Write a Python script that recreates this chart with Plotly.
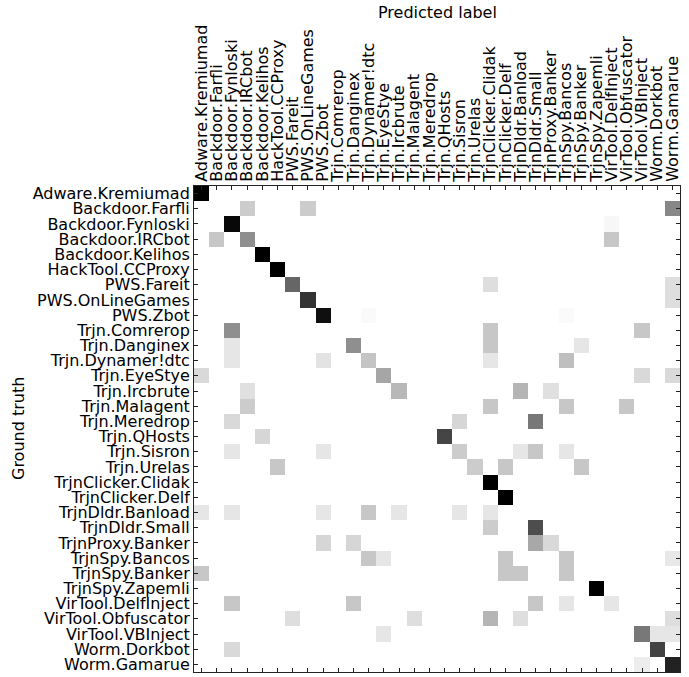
import plotly.graph_objects as go

# Class labels (shared by both axes)
classes = [
    "Adware.Kremiumad", "Backdoor.Farfli", "Backdoor.Fynloski", "Backdoor.IRCbot",
    "Backdoor.Kelihos", "HackTool.CCProxy", "PWS.Fareit", "PWS.OnLineGames",
    "PWS.Zbot", "Trjn.Comrerop", "Trjn.Danginex", "Trjn.Dynamer!dtc",
    "Trjn.EyeStye", "Trjn.Ircbrute", "Trjn.Malagent", "Trjn.Meredrop",
    "Trjn.QHosts", "Trjn.Sisron", "Trjn.Urelas", "TrjnClicker.Clidak",
    "TrjnClicker.Delf", "TrjnDldr.Banload", "TrjnDldr.Small", "TrjnProxy.Banker",
    "TrjnSpy.Bancos", "TrjnSpy.Banker", "TrjnSpy.Zapemli", "VirTool.DelfInject",
    "VirTool.Obfuscator", "VirTool.VBInject", "Worm.Dorkbot", "Worm.Gamarue",
]

# Non-zero cells of the (row-normalised) confusion matrix
truth_idx = [
    0,
    1, 1, 1,
    2, 2,
    3, 3, 3,
    4,
    5,
    6, 6, 6,
    7, 7,
    8, 8, 8,
    9, 9, 9,
    10, 10, 10, 10,
    11, 11, 11, 11, 11,
    12, 12, 12, 12,
    13, 13, 13, 13,
    14, 14, 14, 14,
    15, 15, 15,
    16, 16,
    17, 17, 17, 17, 17, 17,
    18, 18, 18, 18,
    19,
    20,
    21, 21, 21, 21, 21, 21, 21,
    22, 22,
    23, 23, 23, 23,
    24, 24, 24, 24, 24,
    25, 25, 25, 25,
    26,
    27, 27, 27, 27, 27,
    28, 28, 28, 28, 28,
    29, 29, 29, 29,
    30, 30,
    31, 31,
]
pred_idx = [
    0,
    3, 7, 31,
    2, 27,
    1, 3, 27,
    4,
    5,
    6, 19, 31,
    7, 31,
    8, 11, 24,
    2, 19, 29,
    2, 10, 19, 25,
    2, 8, 11, 19, 24,
    0, 12, 29, 31,
    3, 13, 21, 23,
    3, 19, 24, 28,
    2, 17, 22,
    4, 16,
    2, 8, 17, 21, 22, 24,
    5, 18, 20, 25,
    19,
    20,
    0, 2, 8, 11, 13, 17, 19,
    19, 22,
    8, 10, 22, 23,
    11, 12, 20, 24, 31,
    0, 20, 21, 24,
    26,
    2, 10, 22, 24, 27,
    6, 14, 19, 21, 31,
    12, 29, 30, 31,
    2, 30,
    29, 31,
]
share = [
    1.00,
    0.20, 0.20, 0.47,
    0.97, 0.03,
    0.22, 0.44, 0.22,
    1.00,
    1.00,
    0.60, 0.13, 0.13,
    0.80, 0.13,
    0.94, 0.02, 0.02,
    0.44, 0.22, 0.22,
    0.10, 0.44, 0.22, 0.10,
    0.10, 0.11, 0.23, 0.10, 0.25,
    0.15, 0.35, 0.15, 0.15,
    0.12, 0.28, 0.29, 0.12,
    0.20, 0.22, 0.22, 0.22,
    0.15, 0.16, 0.53,
    0.16, 0.73,
    0.10, 0.10, 0.20, 0.10, 0.22, 0.10,
    0.22, 0.20, 0.22, 0.22,
    1.00,
    1.00,
    0.10, 0.10, 0.10, 0.22, 0.10, 0.10, 0.10,
    0.20, 0.70,
    0.16, 0.16, 0.34, 0.15,
    0.22, 0.10, 0.22, 0.22, 0.09,
    0.22, 0.22, 0.22, 0.22,
    1.00,
    0.22, 0.22, 0.22, 0.10, 0.10,
    0.13, 0.13, 0.29, 0.13, 0.13,
    0.10, 0.53, 0.10, 0.10,
    0.15, 0.74,
    0.07, 0.87,
]

n = len(classes)
z = [[0.0] * n for _ in range(n)]
for r, c, v in zip(truth_idx, pred_idx, share):
    z[r][c] = v

FONT = "DejaVu Sans"

fig = go.Figure(
    go.Heatmap(
        z=z,
        x=classes,
        y=classes,
        colorscale=[[0, "#ffffff"], [1, "#000000"]],
        zmin=0,
        zmax=1,
        showscale=False,
        hoverongaps=False,
    )
)

axis_common = dict(
    type="category",
    tickmode="linear",
    tick0=0,
    dtick=1,
    showline=True,
    linecolor="#222222",
    linewidth=1,
    mirror="allticks",
    ticks="inside",
    ticklen=4,
    tickwidth=1,
    tickcolor="#222222",
    showgrid=False,
    zeroline=False,
    tickfont=dict(family=FONT, size=16, color="#000000"),
    automargin=False,
)

fig.update_xaxes(
    side="top",
    tickangle=-90,
    range=[-0.5, n - 0.5],
    **axis_common,
)
fig.update_yaxes(
    range=[n - 0.5, -0.5],
    **axis_common,
)

fig.add_annotation(
    text="Predicted label",
    xref="paper", yref="paper",
    x=0.5, y=1 + (186 - 13) / 486,
    xanchor="center", yanchor="middle",
    showarrow=False,
    font=dict(family=FONT, size=16, color="#000000"),
)
fig.add_annotation(
    text="Ground truth",
    xref="paper", yref="paper",
    x=(18 - 194) / 486, y=0.5,
    xanchor="center", yanchor="middle",
    textangle=-90,
    showarrow=False,
    font=dict(family=FONT, size=16, color="#000000"),
)

fig.update_layout(
    width=689,
    height=677,
    margin=dict(l=194, r=9, t=186, b=5, pad=0),
    paper_bgcolor="#ffffff",
    plot_bgcolor="#ffffff",
    font=dict(family=FONT, size=16, color="#000000"),
)

fig.write_html("out.html")
